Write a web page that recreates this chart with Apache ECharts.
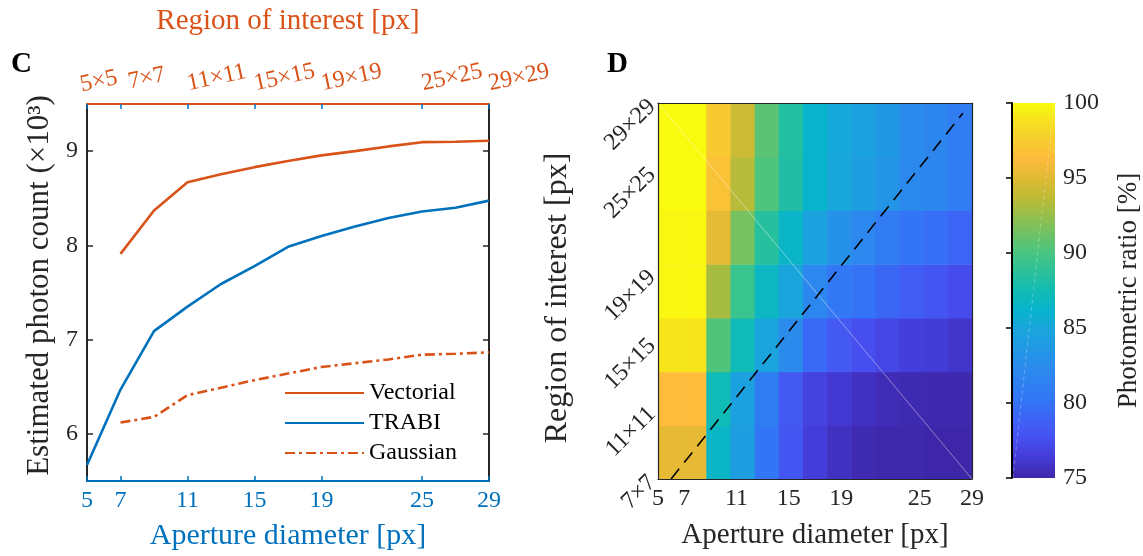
<!DOCTYPE html>
<html>
<head>
<meta charset="utf-8">
<script src="https://cdn.jsdelivr.net/npm/echarts@6/dist/echarts.min.js"></script>
<style>
html, body { margin: 0; padding: 0; background: #fff; }
#main { width: 1143px; height: 556px; }
</style>
</head>
<body>
<div id="main"></div>
<script>
// panel C: photon count vs aperture diameter
const apertures = [5, 7, 9, 11, 13, 15, 17, 19, 21, 23, 25, 27, 29];
const vectorial = [null, 7.91, 8.37, 8.67, 8.755, 8.83, 8.895, 8.955, 9.0, 9.05, 9.095, 9.10, 9.11];
const trabi = [5.67, 6.47, 7.09, 7.35, 7.59, 7.78, 7.985, 8.10, 8.20, 8.29, 8.36, 8.40, 8.475];
const gaussian = [null, 6.12, 6.18, 6.41, 6.49, 6.57, 6.64, 6.71, 6.75, 6.79, 6.84, 6.85, 6.865];
const apertureTicks = [5, 7, 11, 15, 19, 25, 29];
const roiTopFirst = [5];
const roiTopRest = [7, 11, 15, 19, 25, 29];
const photonTicks = [6, 7, 8, 9];

// panel D: photometric ratio [%], rows from 7x7 (bottom) up to 29x29 (top)
const roiTicks = [7, 11, 15, 19, 25, 29];
const ratioRows = [
    [95.3, 95.3, 86.6, 84.2, 80.3, 78.0, 76.5, 75.7, 75.3, 75.1, 75.1, 75.0, 75.0],
    [96.3, 96.3, 87.3, 84.4, 81.0, 78.2, 76.8, 76.2, 75.7, 75.4, 75.3, 75.2, 75.2],
    [99.0, 99.0, 90.3, 87.3, 84.7, 82.4, 79.3, 78.2, 77.5, 77.0, 76.6, 76.4, 76.0],
    [99.8, 99.8, 93.0, 89.3, 86.8, 84.8, 82.0, 80.5, 80.0, 79.2, 78.5, 78.0, 77.3],
    [99.8, 99.8, 95.2, 91.5, 88.5, 86.5, 84.5, 83.0, 82.0, 80.8, 80.2, 79.7, 79.0],
    [100, 100, 96.8, 93.5, 90.2, 88.2, 86.2, 85.0, 84.2, 83.3, 82.2, 81.8, 80.8],
    [100, 100, 97.3, 94.2, 90.6, 88.3, 86.3, 85.2, 84.5, 83.7, 82.4, 81.9, 81.0]
];
const diagX = [6.0, 28.3];
const diagY = [7.0, 28.4];

const ORANGE = '#D95319', BLUE = '#0072BD', INK = '#262626';
const SERIF = '"Liberation Serif", serif';

// parula-ish colormap
const parula = ['#3E26A8', '#4339D3', '#474EEF', '#3F61F5', '#3473F6', '#2F80F1', '#2A8CEC',
    '#2199E4', '#19A6DB', '#07B4CC', '#12BBB3', '#2CC19A', '#48C581', '#6EC266', '#95BF4A',
    '#C0BB36', '#E0BA33', '#FDBB3C', '#F7CC2F', '#F6E020', '#F9FB0E'];

const pairs = (ys) => apertures.map((a, i) => [a, ys[i]]).filter(p => p[1] != null);

// heatmap cells: 13 columns over 5..29, 7 rows over 7..29
const nCols = ratioRows[0].length, nRows = ratioRows.length;
const cw = (29 - 5) / nCols, rh = (29 - 7) / nRows;
const cells = [];
ratioRows.forEach((row, r) => row.forEach((v, c) => {
    cells.push([5 + (c + 0.5) * cw, 7 + (r + 0.5) * rh, v]);
}));

function renderCell(params, api) {
    const ctr = api.coord([api.value(0), api.value(1)]);
    const sz = api.size([cw, rh]);
    return {
        type: 'rect',
        shape: { x: ctr[0] - sz[0] / 2, y: ctr[1] - sz[1] / 2, width: sz[0] + 0.6, height: sz[1] + 0.6 },
        style: { fill: api.visual('color') }
    };
}

function renderBar(params, api) {
    const p0 = api.coord([0, 100]);
    const p1 = api.coord([1, 75]);
    return {
        type: 'rect',
        shape: { x: p0[0], y: p0[1], width: p1[0] - p0[0], height: p1[1] - p0[1] },
        style: {
            fill: new echarts.graphic.LinearGradient(0, 1, 0, 0,
                parula.map((c, i) => ({ offset: i / (parula.length - 1), color: c })))
        }
    };
}

const tickLbl = (color) => ({ fontFamily: SERIF, fontSize: 24, color: color });
const nameTxt = (color, size) => ({ fontFamily: SERIF, fontSize: size, color: color });
const roiFmt = v => v + '×' + v;

// top axis labels, split over two axes so the close 5x5 / 7x7 pair both stay visible
const topRich = {
    a: { ...tickLbl(ORANGE), padding: [0, 0, 0, 24] },
    b: { ...tickLbl(ORANGE), padding: [0, 0, 0, 8] }
};

var myChart = echarts.init(document.getElementById('main'), null, { renderer: 'canvas' });

myChart.setOption({
    animation: false,
    graphic: [
        { type: 'text', left: 11, top: 50, style: { text: 'C', font: 'bold 29px "Liberation Serif"', fill: '#000' } },
        { type: 'text', left: 607, top: 50, style: { text: 'D', font: 'bold 29px "Liberation Serif"', fill: '#000' } }
    ],
    grid: [
        { left: 87, top: 104, width: 402, height: 380 },
        { left: 658, top: 103, width: 314, height: 376 },
        { left: 1012, top: 103, width: 45, height: 375 }
    ],
    visualMap: {
        show: false, min: 75, max: 100, dimension: 2, seriesIndex: 3,
        inRange: { color: parula }
    },
    legend: {
        orient: 'vertical', left: 284, top: 381, padding: 0,
        itemWidth: 79, itemHeight: 14, itemGap: 6,
        itemStyle: { opacity: 0 },
        data: ['Vectorial', 'TRABI', 'Gaussian'],
        textStyle: { fontFamily: SERIF, fontSize: 24, color: '#000', lineHeight: 22 }
    },
    xAxis: [
        {
            gridIndex: 0, type: 'value', min: 5, max: 29, position: 'bottom',
            axisLine: { lineStyle: { color: BLUE, width: 2 } },
            axisTick: { inside: true, length: 5, customValues: apertureTicks, lineStyle: { color: BLUE, width: 1.5 } },
            axisLabel: { customValues: apertureTicks, margin: 8, showMinLabel: true, showMaxLabel: true, ...tickLbl(BLUE) },
            splitLine: { show: false },
            name: 'Aperture diameter [px]', nameLocation: 'middle', nameGap: 40,
            nameTextStyle: nameTxt(BLUE, 30)
        },
        {
            gridIndex: 0, type: 'value', min: 5, max: 29, position: 'top',
            axisLine: { lineStyle: { color: ORANGE, width: 2 } },
            axisTick: { inside: true, length: 5, customValues: apertureTicks, lineStyle: { color: BLUE, width: 1.5 } },
            axisLabel: {
                customValues: roiTopFirst, margin: 20, rotate: -12, align: 'center',
                formatter: v => '{a|' + roiFmt(v) + '}', rich: topRich, ...tickLbl(ORANGE)
            },
            splitLine: { show: false },
            name: 'Region of interest [px]', nameLocation: 'middle', nameGap: 68,
            nameTextStyle: nameTxt(ORANGE, 29)
        },
        {
            gridIndex: 1, type: 'value', min: 5, max: 29, position: 'bottom', z: 10,
            axisLine: { lineStyle: { color: INK, width: 1.2 } },
            axisTick: { show: false },
            axisLabel: { customValues: apertureTicks, margin: 8, showMinLabel: true, showMaxLabel: true, ...tickLbl(INK) },
            splitLine: { show: false },
            name: 'Aperture diameter [px]', nameLocation: 'middle', nameGap: 42,
            nameTextStyle: nameTxt(INK, 29)
        },
        {
            gridIndex: 1, type: 'value', min: 5, max: 29, position: 'top', z: 10,
            axisLine: { lineStyle: { color: INK, width: 1.2 } },
            axisTick: { show: false }, axisLabel: { show: false }, splitLine: { show: false }
        },
        {
            gridIndex: 2, type: 'value', min: 0, max: 1, show: false
        },
        {
            gridIndex: 0, type: 'value', min: 5, max: 29, position: 'top', offset: 0,
            axisLine: { show: false }, axisTick: { show: false },
            axisLabel: {
                customValues: roiTopRest, margin: 20, rotate: -12, align: 'left',
                formatter: v => v === roiTopRest[0] ? '{b|' + roiFmt(v) + '}' : roiFmt(v),
                rich: topRich, ...tickLbl(ORANGE)
            },
            splitLine: { show: false }
        }
    ],
    yAxis: [
        {
            gridIndex: 0, type: 'value', min: 5.5, max: 9.5, position: 'left',
            axisLine: { show: true, lineStyle: { color: INK, width: 2 } },
            axisTick: { show: true, inside: true, length: 6, customValues: photonTicks, lineStyle: { color: INK, width: 1.5 } },
            axisLabel: { customValues: photonTicks, margin: 9, ...tickLbl(INK) },
            splitLine: { show: false },
            name: 'Estimated photon count (×10³)', nameLocation: 'middle', nameGap: 32,
            nameTextStyle: { ...nameTxt(INK, 31), padding: [0, 0, 0, 14] }
        },
        {
            gridIndex: 0, type: 'value', min: 5.5, max: 9.5, position: 'right',
            axisLine: { show: true, lineStyle: { color: INK, width: 2 } },
            axisTick: { show: true, inside: true, length: 6, customValues: photonTicks, lineStyle: { color: INK, width: 1.5 } },
            axisLabel: { show: false }, splitLine: { show: false }
        },
        {
            gridIndex: 1, type: 'value', min: 7, max: 29, position: 'left', z: 10,
            axisLine: { show: true, lineStyle: { color: INK, width: 1.2 } },
            axisTick: { show: false },
            axisLabel: {
                customValues: roiTicks, margin: 6, rotate: 45, showMinLabel: true, showMaxLabel: true,
                formatter: roiFmt, ...tickLbl(INK)
            },
            splitLine: { show: false },
            name: 'Region of interest [px]', nameLocation: 'middle', nameGap: 84,
            nameTextStyle: { ...nameTxt(INK, 32), padding: [0, 14, 0, 0] }
        },
        {
            gridIndex: 1, type: 'value', min: 7, max: 29, position: 'right', z: 10,
            axisLine: { show: true, lineStyle: { color: INK, width: 1.2 } },
            axisTick: { show: false }, axisLabel: { show: false }, splitLine: { show: false }
        },
        {
            gridIndex: 2, type: 'value', min: 75, max: 100, interval: 5, position: 'right', z: 10,
            axisLine: { show: true, lineStyle: { color: '#000', width: 2 } },
            axisTick: { show: true, inside: true, length: 6, lineStyle: { color: '#000', width: 1.5 } },
            axisLabel: { margin: 8, ...tickLbl(INK) },
            splitLine: { show: false },
            name: 'Photometric ratio [%]', nameLocation: 'middle', nameGap: 60, nameRotate: 90,
            nameTextStyle: nameTxt(INK, 27)
        }
    ],
    series: [
        {
            name: 'Vectorial', type: 'line', xAxisIndex: 0, yAxisIndex: 0,
            data: pairs(vectorial), showSymbol: false, symbol: 'none', z: 3,
            lineStyle: { color: ORANGE, width: 2.6 }, itemStyle: { color: ORANGE }
        },
        {
            name: 'TRABI', type: 'line', xAxisIndex: 0, yAxisIndex: 0,
            data: pairs(trabi), showSymbol: false, symbol: 'none', z: 3,
            lineStyle: { color: BLUE, width: 2.6 }, itemStyle: { color: BLUE }
        },
        {
            name: 'Gaussian', type: 'line', xAxisIndex: 0, yAxisIndex: 0,
            data: pairs(gaussian), showSymbol: false, symbol: 'none', z: 3,
            lineStyle: { color: ORANGE, width: 2.6, type: [10, 4, 3, 4] }, itemStyle: { color: ORANGE }
        },
        {
            type: 'custom', xAxisIndex: 2, yAxisIndex: 2, data: cells,
            renderItem: renderCell, encode: { x: 0, y: 1 }, z: 1
        },
        {
            type: 'line', xAxisIndex: 3, yAxisIndex: 3, silent: true, showSymbol: false, symbol: 'none',
            data: [[5, 29], [29, 7]], lineStyle: { color: '#fff', width: 0.7, opacity: 0.6 }, z: 2
        },
        {
            type: 'line', xAxisIndex: 2, yAxisIndex: 2, silent: true, showSymbol: false, symbol: 'none',
            data: diagX.map((x, i) => [x, diagY[i]]),
            lineStyle: { color: '#000', width: 1.6, type: [13, 8] }, z: 3
        },
        {
            type: 'custom', xAxisIndex: 4, yAxisIndex: 4, data: [[0.5, 87.5]],
            renderItem: renderBar, z: 1
        },
        {
            type: 'line', xAxisIndex: 4, yAxisIndex: 4, silent: true, showSymbol: false, symbol: 'none',
            data: [[0.02, 75], [0.98, 100]], lineStyle: { color: '#fff', width: 0.7, opacity: 0.4, type: [4, 3] }, z: 2
        }
    ]
});
</script>
</body>
</html>
